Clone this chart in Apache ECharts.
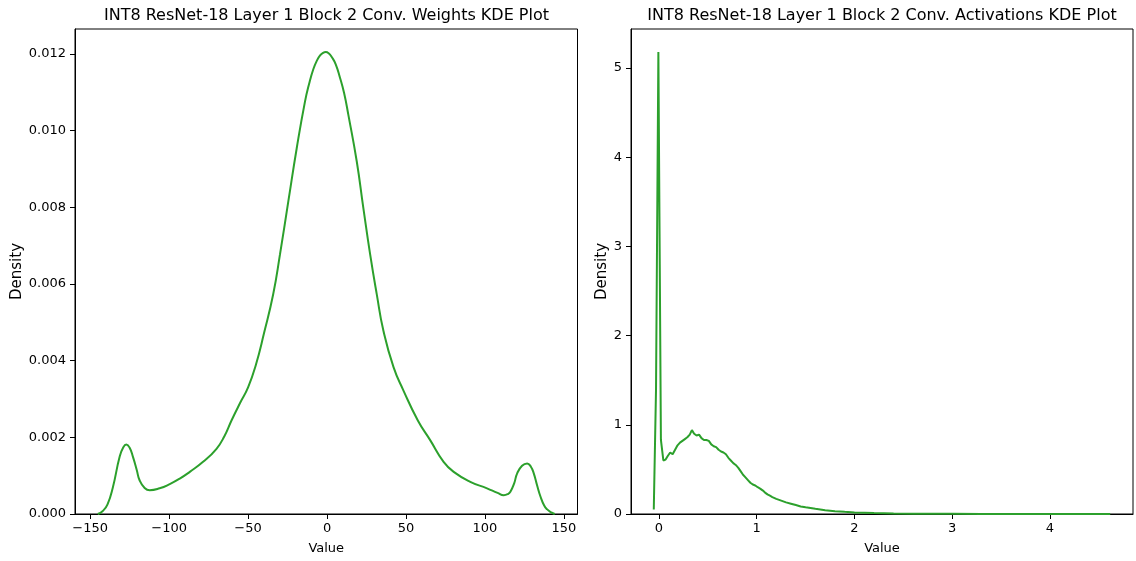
<!DOCTYPE html>
<html>
<head>
<meta charset="utf-8">
<script src="https://cdn.jsdelivr.net/npm/echarts@6/dist/echarts.min.js"></script>
<style>
  html, body { margin: 0; padding: 0; background: #fff; }
  #chart { width: 1136px; height: 561px; }
</style>
</head>
<body>
<div id="chart"></div>
<script>
// Kernel density estimate of the INT8 conv weights: [value, density]
const weightsKde = [
  [-145.2, 0.00000], [-142, 0.00008], [-139, 0.00025], [-135.6, 0.0007],
  [-131.3, 0.0015], [-129, 0.00174], [-127.1, 0.00181], [-125, 0.00173],
  [-122.9, 0.00149], [-120.5, 0.00115], [-118.7, 0.00088], [-115.5, 0.00068],
  [-112.3, 0.00062], [-106, 0.00067], [-99.6, 0.00078], [-93, 0.00093],
  [-86.9, 0.0011], [-78.5, 0.00136], [-70, 0.0017], [-65, 0.00203],
  [-60.5, 0.00244], [-55, 0.0029], [-50, 0.0033], [-45, 0.0039],
  [-40, 0.0047], [-34.1, 0.00573], [-29.8, 0.00677], [-24.5, 0.00816],
  [-19.2, 0.00954], [-14, 0.01075], [-11.3, 0.01123], [-8.7, 0.01160],
  [-6.5, 0.01182], [-4.4, 0.01196], [-2.5, 0.01203], [-0.8, 0.01205],
  [1, 0.01202], [3, 0.01192], [5.5, 0.01173], [8.2, 0.01138],
  [10.8, 0.01098], [13.5, 0.01041],
  [18.8, 0.0092], [23, 0.00798], [27.3, 0.00677], [31.5, 0.00573],
  [35.7, 0.00478], [42.1, 0.00383], [48.4, 0.00322], [57.5, 0.00244],
  [65.4, 0.00192], [73.8, 0.00136], [80.2, 0.0011], [90.7, 0.00084],
  [101.3, 0.00067], [108, 0.00055], [111.9, 0.00049], [114.5, 0.00052],
  [116.1, 0.00058], [118.5, 0.0008], [120.4, 0.00106], [123.5, 0.00126],
  [126.7, 0.00132], [129, 0.00124], [130.9, 0.00106], [133, 0.00075],
  [135.2, 0.00045], [137.5, 0.00022], [139.4, 0.00012], [142, 0.00004],
  [144.2, 0.00000]
];

// Kernel density estimate of the INT8 conv activations: [value, density]
const activationsKde = [
  [-0.053, 0.05], [-0.03, 1.4], [-0.006, 5.18], [0.02, 0.83], [0.045, 0.60],
  [0.068, 0.61], [0.09, 0.65], [0.115, 0.69], [0.14, 0.67], [0.165, 0.72],
  [0.19, 0.77], [0.215, 0.80], [0.24, 0.82], [0.265, 0.84], [0.29, 0.86],
  [0.315, 0.89], [0.337, 0.94], [0.36, 0.90], [0.385, 0.88], [0.41, 0.89],
  [0.435, 0.85], [0.46, 0.83], [0.485, 0.83], [0.51, 0.82], [0.535, 0.78],
  [0.56, 0.76], [0.585, 0.75], [0.61, 0.72], [0.635, 0.70], [0.66, 0.69],
  [0.685, 0.67], [0.71, 0.63], [0.735, 0.60], [0.76, 0.57], [0.785, 0.55],
  [0.81, 0.52], [0.835, 0.48], [0.86, 0.44], [0.885, 0.41], [0.91, 0.38],
  [0.935, 0.35], [0.96, 0.33], [0.985, 0.32], [1.01, 0.30], [1.035, 0.285],
  [1.06, 0.265], [1.085, 0.24], [1.11, 0.22], [1.135, 0.205], [1.16, 0.19],
  [1.2, 0.17], [1.25, 0.15], [1.3, 0.13], [1.35, 0.115], [1.4, 0.10],
  [1.45, 0.085], [1.5, 0.075], [1.6, 0.058], [1.7, 0.043], [1.8, 0.032],
  [1.9, 0.024], [2.0, 0.018], [2.2, 0.010], [2.4, 0.006], [2.6, 0.004],
  [2.8, 0.003], [3.0, 0.002], [3.3, 0.0013], [3.6, 0.0009], [4.0, 0.0005],
  [4.3, 0.0003], [4.616, 0.0002]
];

// Tick positions
const weightsXTicks = [-150, -100, -50, 0, 50, 100, 150];
const weightsYTicks = [0, 0.002, 0.004, 0.006, 0.008, 0.010, 0.012];
const actXTicks = [0, 1, 2, 3, 4];
const actYTicks = [0, 1, 2, 3, 4, 5];

const titles = [
  'INT8 ResNet-18 Layer 1 Block 2 Conv. Weights KDE Plot',
  'INT8 ResNet-18 Layer 1 Block 2 Conv. Activations KDE Plot'
];

const FONT = 'DejaVu Sans';
const INK = '#000';
const GREEN = '#2ca02c';
const minus = s => String(s).replace('-', '\u2212');

function xAxisCfg(gridIndex, min, max, ticks, fmt) {
  return {
    type: 'value', gridIndex, min, max,
    name: 'Value', nameLocation: 'middle', nameGap: 28,
    nameTextStyle: { fontFamily: FONT, fontSize: 13, color: INK },
    axisLine: { show: true, onZero: false, lineStyle: { color: INK, width: 1 } },
    axisTick: { show: true, inside: false, length: 5, customValues: ticks, lineStyle: { color: INK } },
    axisLabel: { customValues: ticks, margin: 8, fontFamily: FONT, fontSize: 13, color: INK, formatter: fmt },
    splitLine: { show: false }
  };
}
function yAxisCfg(gridIndex, min, max, ticks, fmt, gap) {
  return {
    type: 'value', gridIndex, min, max,
    name: 'Density', nameLocation: 'middle', nameGap: gap, nameRotate: 90,
    nameTextStyle: { fontFamily: FONT, fontSize: 15, color: INK },
    axisLine: { show: true, onZero: false, lineStyle: { color: INK, width: 1 } },
    axisTick: { show: true, inside: false, length: 5, customValues: ticks, lineStyle: { color: INK } },
    axisLabel: { customValues: ticks, margin: 9, fontFamily: FONT, fontSize: 13, color: INK, formatter: fmt },
    splitLine: { show: false }
  };
}

const chart = echarts.init(document.getElementById('chart'), null, { renderer: 'canvas' });
chart.setOption({
  animation: false,
  backgroundColor: '#fff',
  title: [
    { text: titles[0], left: 321.5, top: 3, textAlign: 'center',
      textStyle: { fontFamily: FONT, fontSize: 16, fontWeight: 'normal', color: INK } },
    { text: titles[1], left: 877, top: 3, textAlign: 'center',
      textStyle: { fontFamily: FONT, fontSize: 16, fontWeight: 'normal', color: INK } }
  ],
  grid: [
    { left: 75, right: 558.5, top: 29, bottom: 47, show: true, borderColor: INK, borderWidth: 1, backgroundColor: 'transparent' },
    { left: 631, right: 3, top: 29, bottom: 47, show: true, borderColor: INK, borderWidth: 1, backgroundColor: 'transparent' }
  ],
  xAxis: [
    xAxisCfg(0, -159.6, 158.6, weightsXTicks, v => minus(Math.round(v))),
    xAxisCfg(1, -0.286, 4.849, actXTicks, v => String(Math.round(v)))
  ],
  yAxis: [
    yAxisCfg(0, 0, 0.01265, weightsYTicks, v => v.toFixed(3), 50),
    yAxisCfg(1, 0, 5.437, actYTicks, v => String(Math.round(v)), 21)
  ],
  series: [
    { type: 'line', xAxisIndex: 0, yAxisIndex: 0, data: weightsKde, showSymbol: false,
      smooth: 0.5, lineStyle: { color: GREEN, width: 2 }, clip: true },
    { type: 'line', xAxisIndex: 1, yAxisIndex: 1, data: activationsKde, showSymbol: false,
      smooth: false, lineStyle: { color: GREEN, width: 2 }, clip: true }
  ]
});
</script>
</body>
</html>
